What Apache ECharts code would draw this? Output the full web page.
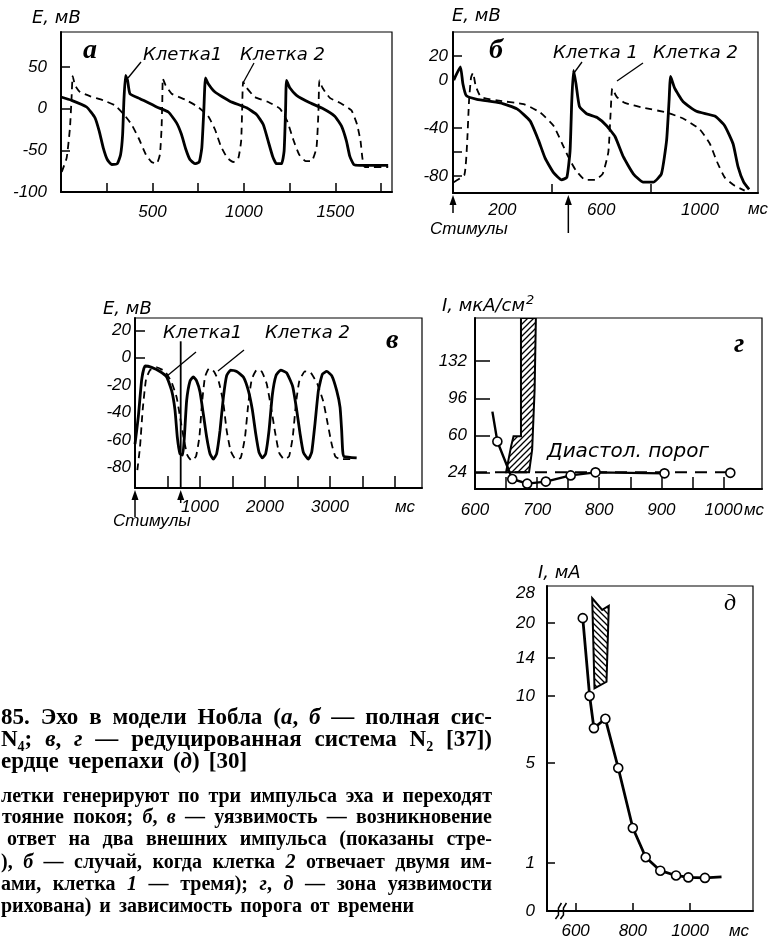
<!DOCTYPE html>
<html>
<head>
<meta charset="utf-8">
<script src="https://cdn.jsdelivr.net/npm/echarts@6/dist/echarts.min.js"></script>
<style>
  html, body { margin: 0; padding: 0; background: #fff; }
  #chart { width: 780px; height: 943px; }
</style>
</head>
<body>
<div id="chart"></div>
<script>
'use strict';

// ---- panel а: full system N4, time (ms) / potential (mV)
var aCell1 = [[0,14],[58,10],[140,2],[186,-11],[209,-27],[231,-47],[253,-61],[277,-67],[308,-66],[326,-55],
  [337,-31],[344,10],[353,40],[364,34],[377,18],[432,12],[523,2],[587,-4],[632,-17],[659,-31],[683,-49],
  [705,-61],[732,-66],[756,-64],[770,-47],[781,-2],[790,37],[805,30],[842,20],[923,9],[1015,1],[1069,-7],
  [1106,-19],[1133,-39],[1157,-57],[1178,-66],[1206,-66],[1220,-51],[1228,-2],[1233,34],[1251,25],[1288,16],
  [1361,7],[1434,0],[1497,-9],[1534,-21],[1561,-39],[1579,-57],[1601,-67],[1634,-68],[1789,-68]];
var aCell2 = [[4,-76],[31,-59],[49,-23],[58,14],[64,39],[77,28],[104,20],[158,15],[231,10],[295,4],[344,-7],
  [386,-19],[428,-37],[464,-55],[495,-64],[523,-66],[541,-55],[550,-23],[554,10],[557,36],[572,28],[605,18],
  [678,11],[750,2],[805,-9],[842,-25],[874,-45],[909,-59],[942,-64],[969,-60],[985,-39],[991,2],[996,32],
  [1015,25],[1060,14],[1133,8],[1197,0],[1237,-15],[1270,-37],[1302,-55],[1339,-63],[1370,-63],[1397,-47],
  [1408,-2],[1413,34],[1430,25],[1470,13],[1534,6],[1588,-2],[1619,-19],[1638,-39],[1648,-59],[1661,-70],[1789,-70]];
var aXLabels = [500, 1000, 1500];
var aXTicks = [250, 500, 750, 1000, 1250, 1500, 1750];
var aYLabels = [-100, -50, 0, 50];
var aYTicks = [-50, 0, 50];

// ---- panel б: vulnerability, full system
var bCell1 = [[3,0],[30,11],[40,-3],[54,-13],[97,-16],[191,-19],[259,-24],[312,-34],[346,-50],[373,-65],
  [407,-77],[440,-83],[461,-81],[474,-59],[481,-17],[488,8],[498,-3],[512,-22],[541,-28],[582,-31],[622,-38],
  [656,-47],[690,-64],[730,-78],[770,-85],[811,-85],[844,-78],[865,-50],[875,-17],[881,3],[898,-7],[932,-18],
  [986,-26],[1060,-30],[1100,-38],[1134,-53],[1154,-72],[1177,-85],[1199,-91]];
var bCell2 = [[3,-85],[46,-79],[57,-53],[65,-17],[73,2],[81,6],[92,-5],[113,-14],[178,-17],[286,-20],[353,-27],
  [407,-38],[440,-52],[467,-64],[497,-75],[535,-83],[575,-83],[606,-78],[629,-60],[638,-28],[645,-7],[663,-14],
  [696,-19],[770,-23],[865,-27],[932,-32],[999,-41],[1040,-53],[1069,-68],[1100,-81],[1141,-88],[1181,-92]];
var bStim = [0, 467];
var bXLabels = [200, 600, 1000];
var bXTicks = [400, 800];
var bYLabels = [-80, -40, 0, 20];
var bYTicks = [-80, -60, -40, 20];

// ---- panel в: reduced system N2
var vCell1 = [[0,-63],[51,-43],[103,-16],[154,-6],[256,-7],[385,-10],[487,-14],[564,-24],[615,-38],[651,-58],
  [692,-70],[733,-71],[759,-58],[795,-31],[846,-17],[897,-14],[949,-17],[1000,-25],[1051,-41],[1103,-58],
  [1154,-70],[1205,-74],[1256,-70],[1308,-53],[1359,-29],[1410,-13],[1472,-9],[1564,-10],[1667,-14],[1744,-24],
  [1805,-38],[1856,-55],[1908,-69],[1959,-73],[2010,-70],[2062,-53],[2113,-27],[2169,-13],[2241,-9],[2333,-11],
  [2426,-21],[2487,-38],[2538,-55],[2590,-69],[2667,-74],[2718,-69],[2769,-48],[2821,-24],[2882,-12],[2949,-10],
  [3026,-13],[3103,-24],[3154,-36],[3179,-53],[3195,-68],[3215,-72],[3410,-73]];
var vCell2 = [[36,-82],[77,-65],[118,-38],[169,-16],[231,-9],[333,-7],[462,-10],[564,-18],[641,-29],[703,-46],
  [754,-60],[805,-71],[872,-75],[938,-72],[990,-58],[1031,-33],[1077,-14],[1138,-8],[1215,-10],[1292,-18],
  [1359,-33],[1410,-53],[1472,-68],[1549,-74],[1626,-73],[1692,-58],[1744,-33],[1795,-16],[1872,-9],[1949,-10],
  [2026,-19],[2092,-36],[2154,-54],[2215,-69],[2292,-74],[2369,-72],[2426,-58],[2477,-33],[2528,-17],[2615,-10],
  [2703,-11],[2805,-19],[2897,-32],[2964,-48],[3026,-63],[3082,-72],[3154,-74],[3359,-74]];
var vStim = [0, 703];
var vStimTop = 12;
var vXLabels = [1000, 2000, 3000];
var vXTicks = [500, 1000, 1500, 2000, 2500, 3000, 3500, 4000];
var vYLabels = [-80, -60, -40, -20, 0, 20];
var vYTicks = [0, 20];

// ---- panel г: threshold (мкА/см2) vs time (ms)
var gStart = [628, 83];
var gPoints = [[636,54],[660,17.5],[684,13],[714,15],[754,21],[794,24],[905,23]];
var gFar = [[1011,23.5]];
var gThreshold = 24;
var gThresholdSpan = [600, 1011];
var gZone = [[674,174],[698,174],[696,105],[692,46],[687,24],[650,24],[658,49],[662,59],[674,59]];
var gXLabels = [600, 700, 800, 900, 1000];
var gXTicks = [650, 700, 750, 800, 850, 900, 950, 1000];
var gYLabels = [24, 60, 96, 132];

// ---- panel д: turtle heart, threshold (мА) vs time (ms)
var dPoints = [[625,21.3],[649,10],[664,7.6],[704,8.3],[749,4.8],[800,2.4],[845,1.23],[896,0.84],
  [951,0.74],[994,0.70],[1052,0.69]];
var dEnd = [1110, 0.71];
var dZone = [[658,26.6],[693,23.5],[716,24.6],[708,11.5],[666,10.8]];
var dXLabels = [600, 800, 1000];
var dYLabels = [0, 1, 5, 10, 14, 20, 28];
// the printed I axis is uneven: height of each labelled value above the origin
var dYScale = [0, 48, 148, 215, 253, 288, 318];

function dWarp(v) {
  for (var i = 1; i < dYLabels.length; i++) {
    if (v <= dYLabels[i]) {
      var f = (v - dYLabels[i - 1]) / (dYLabels[i] - dYLabels[i - 1]);
      return dYScale[i - 1] + f * (dYScale[i] - dYScale[i - 1]);
    }
  }
  var n = dYLabels.length - 1;
  return dYScale[n] + (v - dYLabels[n]) * (dYScale[n] - dYScale[n - 1]) / (dYLabels[n] - dYLabels[n - 1]);
}
function dw(p) { return [p[0], dWarp(p[1])]; }

// caption (left part of the page is cut off in the scan)
var capTitle = [
  '85. Эхо в модели Нобла (_а_, _б_ — полная сис-',
  'N~4~; _в_, _г_ — редуцированная система N~2~ [37])',
  'ердце черепахи (_д_) [30]'
];
var capBody = [
  'летки генерируют по три импульса эха и переходят',
  'тояние покоя; _б_, _в_ — уязвимость — возникновение',
  'ответ на два внешних импульса (показаны стре-',
  '), _б_ — случай, когда клетка _2_ отвечает двумя им-',
  'ами, клетка _1_ — тремя); _г_, _д_ — зона уязвимости',
  'рихована) и зависимость порога от времени'
];

var LBL = 'italic 18px "DejaVu Sans"';
var UNIT = 'italic 17px "Liberation Sans"';
var LETTER = 'italic bold 28px "Liberation Serif"';

function hatch(dir) {
  var c = document.createElement('canvas');
  c.width = 6; c.height = 6;
  var g = c.getContext('2d');
  g.strokeStyle = '#000';
  g.lineWidth = 1.3;
  g.beginPath();
  if (dir > 0) {
    g.moveTo(0, 6); g.lineTo(6, 0);
    g.moveTo(-1, 1); g.lineTo(1, -1);
    g.moveTo(5, 7); g.lineTo(7, 5);
  } else {
    g.moveTo(0, 0); g.lineTo(6, 6);
    g.moveTo(5, -1); g.lineTo(7, 1);
    g.moveTo(-1, 5); g.lineTo(1, 7);
  }
  g.stroke();
  return c;
}

function plain(v) { return '{i|' + v + '}'; }
var numRich = { i: { fontStyle: 'italic', fontFamily: 'Liberation Sans', fontSize: 17, color: '#000' } };

function xAx(grid, min, max, labels, ticks, margin, tickLen) {
  return {
    type: 'value', gridIndex: grid, min: min, max: max,
    axisLine: { show: true, onZero: false, lineStyle: { color: '#000', width: 2 } },
    axisTick: { show: true, inside: true, length: tickLen, customValues: ticks, lineStyle: { color: '#000', width: 1.5 } },
    axisLabel: { show: true, customValues: labels, margin: margin, color: '#000', formatter: plain,
      fontFamily: 'Liberation Sans', fontStyle: 'italic', fontSize: 17, rich: numRich },
    splitLine: { show: false }
  };
}
function yAx(grid, min, max, labels, ticks, margin, tickLen, fmt) {
  var ax = xAx(grid, min, max, labels, ticks, margin, tickLen);
  if (fmt) ax.axisLabel.formatter = fmt;
  return ax;
}

function curve(idx, data, dashed) {
  return {
    type: 'line', xAxisIndex: idx, yAxisIndex: idx, data: data,
    showSymbol: false, silent: true, smooth: 0.15,
    lineStyle: dashed ? { color: '#000', width: 1.8, type: [7, 5] } : { color: '#000', width: 2.8 },
    z: dashed ? 3 : 4
  };
}

function zone(idx, pts, dir) {
  var pattern = { image: hatch(dir), repeat: 'repeat' };
  return {
    type: 'custom', xAxisIndex: idx, yAxisIndex: idx, data: pts, silent: true, clip: true, z: 5,
    renderItem: function (params, api) {
      if (params.dataIndex !== 0) return null;
      var p = pts.map(function (q) { return api.coord(q); });
      return { type: 'polygon', shape: { points: p },
        style: { fill: pattern, stroke: '#000', lineWidth: 2 } };
    }
  };
}

var chart = echarts.init(document.getElementById('chart'), null, { renderer: 'canvas', width: 780, height: 943 });

var grids = [
  { left: 61, top: 32, width: 331, height: 160 },
  { left: 453, top: 32, width: 305, height: 161 },
  { left: 135, top: 318, width: 287, height: 170 },
  { left: 475, top: 318, width: 287, height: 171 },
  { left: 547, top: 586, width: 206, height: 325 }
].map(function (g) {
  return Object.assign({ show: true, borderColor: '#000', borderWidth: 1.2, backgroundColor: 'transparent',
    containLabel: false, outerBoundsMode: 'none' }, g);
});

var dTicks = dYScale.slice(1, 6);

var option = {
  animation: false,
  backgroundColor: '#fff',
  grid: grids,
  xAxis: [
    xAx(0, 0, 1810, aXLabels, aXTicks, 12, 9),
    xAx(1, 0, 1235, bXLabels, bXTicks, 9, 9),
    xAx(2, 0, 4415, vXLabels, vXTicks, 11, 12),
    xAx(3, 600, 1062, gXLabels, gXTicks, 13, 12),
    xAx(4, 500, 1220, dXLabels, dXLabels, 12, 8)
  ],
  yAxis: [
    yAx(0, -100, 92, aYLabels, aYTicks, 14, 9),
    yAx(1, -94, 40, bYLabels, bYTicks, 5, 9),
    yAx(2, -95, 29, vYLabels, vYTicks, 4, 10),
    yAx(3, 7.8, 174, gYLabels, gYLabels, 8, 15),
    yAx(4, 0, 325, dYScale, dTicks, 12, 8, function (v) {
      var i = dYScale.indexOf(v);
      return i >= 0 ? '{i|' + dYLabels[i] + '}' : '';
    })
  ],
  series: [
    curve(0, aCell1, false), curve(0, aCell2, true),
    curve(1, bCell1, false), curve(1, bCell2, true),
    curve(2, vCell1, false), curve(2, vCell2, true),
    zone(3, gZone, 1),
    {
      type: 'line', xAxisIndex: 3, yAxisIndex: 3, silent: true, showSymbol: false, z: 3,
      data: gThresholdSpan.map(function (x) { return [x, gThreshold]; }),
      lineStyle: { color: '#000', width: 2, type: [12, 8] }
    },
    {
      type: 'line', xAxisIndex: 3, yAxisIndex: 3, silent: true, showSymbol: false, z: 4,
      data: [gStart].concat(gPoints), lineStyle: { color: '#000', width: 2.4 }
    },
    {
      type: 'scatter', xAxisIndex: 3, yAxisIndex: 3, silent: true, z: 6,
      data: gPoints.concat(gFar), symbol: 'circle', symbolSize: 9,
      itemStyle: { color: '#fff', borderColor: '#000', borderWidth: 1.6, opacity: 1 }
    },
    zone(4, dZone.map(dw), -1),
    {
      type: 'line', xAxisIndex: 4, yAxisIndex: 4, silent: true, showSymbol: false, z: 4,
      data: dPoints.concat([dEnd]).map(dw), lineStyle: { color: '#000', width: 2.8 }
    },
    {
      type: 'scatter', xAxisIndex: 4, yAxisIndex: 4, silent: true, z: 6,
      data: dPoints.map(dw), symbol: 'circle', symbolSize: 9,
      itemStyle: { color: '#fff', borderColor: '#000', borderWidth: 1.6, opacity: 1 }
    }
  ]
};
chart.setOption(option);

// ---------- annotations ----------
var gfx = [];
function txt(x, cy, s, font) {
  gfx.push({ type: 'text', x: x, y: cy, silent: true, z: 10,
    style: { text: s, font: font, fill: '#000', textAlign: 'left', align: 'left',
      textVerticalAlign: 'middle', verticalAlign: 'middle' } });
}
function seg(x1, y1, x2, y2, w) {
  gfx.push({ type: 'line', silent: true, z: 10, shape: { x1: x1, y1: y1, x2: x2, y2: y2 },
    style: { stroke: '#000', lineWidth: w || 1.3 } });
}
function arrow(x, yTail, yHead) {
  seg(x, yTail, x, yHead + 6, 1.5);
  gfx.push({ type: 'polygon', silent: true, z: 10,
    shape: { points: [[x, yHead], [x - 3.5, yHead + 10], [x + 3.5, yHead + 10]] }, style: { fill: '#000' } });
}
function px(idx, p) { return chart.convertToPixel({ xAxisIndex: idx, yAxisIndex: idx }, p); }

// panel а
txt(32, 18, 'E, мВ', LBL);
txt(83, 51, 'а', LETTER);
txt(143, 55, 'Клетка1', LBL);
txt(240, 55, 'Клетка 2', LBL);
seg(128, 78, 141, 62);
seg(243, 83, 254, 63);

// panel б
txt(452, 16, 'E, мВ', LBL);
txt(489, 51, 'б', LETTER);
txt(553, 53, 'Клетка 1', LBL);
txt(653, 53, 'Клетка 2', LBL);
seg(574, 73, 582, 62);
seg(617, 81, 643, 63);
txt(748, 209, 'мс', UNIT);
txt(430, 229, 'Стимулы', UNIT);
var bBottom = px(1, [0, -94])[1];
bStim.forEach(function (t, i) {
  var x = px(1, [t, -94])[0];
  arrow(x, bBottom + (i === 0 ? 20 : 40), bBottom + 2);
});

// panel в
txt(103, 309, 'E, мВ', LBL);
txt(163, 333, 'Клетка1', LBL);
txt(265, 333, 'Клетка 2', LBL);
txt(386, 341, 'в', LETTER);
seg(167, 376, 196, 352);
seg(218, 371, 244, 350);
txt(395, 507, 'мс', UNIT);
txt(113, 521, 'Стимулы', UNIT);
var vBottom = px(2, [0, -95])[1];
vStim.forEach(function (t, i) {
  var x = px(2, [t, -95])[0];
  if (i > 0) seg(x, px(2, [t, vStimTop])[1], x, vBottom, 1.8);
  arrow(x, vBottom + (i === 0 ? 29 : 15), vBottom + 2);
});

// panel г
gfx.push({ type: 'text', x: 442, y: 306, silent: true, z: 10,
  style: { text: 'I, мкА/см{s|2}', font: LBL, fill: '#000', textVerticalAlign: 'middle', verticalAlign: 'middle',
    rich: { s: { font: 'italic 13px "DejaVu Sans"', verticalAlign: 'top', padding: [0, 0, 10, 1] } } } });
txt(734, 345, 'г', LETTER);
txt(547, 452, 'Диастол. порог', 'italic 20px "DejaVu Sans"');
txt(744, 510, 'мс', UNIT);

// panel д
txt(538, 573, 'I, мА', LBL);
txt(724, 604, 'д', 'italic 24px "Liberation Serif"');
txt(729, 931, 'мс', UNIT);
var dBreak = px(4, [540, 0]);
[0, 5].forEach(function (dx) {
  var x = dBreak[0] + dx, y = dBreak[1];
  gfx.push({ type: 'polyline', silent: true, z: 10,
    shape: { points: [[x - 3, y + 8], [x, y + 4], [x, y - 3], [x + 3, y - 8]] },
    style: { stroke: '#000', lineWidth: 1.5, fill: null } });
});

// caption, justified word by word
var mctx = document.createElement('canvas').getContext('2d');
function fontFor(kind, size) {
  var f = '"Liberation Serif"';
  if (kind === 'i') return 'italic bold ' + size + 'px ' + f;
  if (kind === 's') return 'bold ' + Math.round(size * 0.62) + 'px ' + f;
  return 'bold ' + size + 'px ' + f;
}
function parse(word) {
  return word.split(/(_[^_]+_|~[^~]+~)/).filter(Boolean).map(function (s) {
    if (s.charAt(0) === '_') return { t: s.slice(1, -1), k: 'i' };
    if (s.charAt(0) === '~') return { t: s.slice(1, -1), k: 's' };
    return { t: s, k: 'n' };
  });
}
function captionLine(str, x0, cy, size, right, justify) {
  var words = str.split(' ').map(function (w) {
    var segs = parse(w), tot = 0;
    segs.forEach(function (s) {
      mctx.font = fontFor(s.k, size);
      s.w = mctx.measureText(s.t).width;
      tot += s.w;
    });
    return { segs: segs, w: tot };
  });
  var total = words.reduce(function (a, w) { return a + w.w; }, 0);
  mctx.font = fontFor('n', size);
  var gap = justify ? (right - x0 - total) / (words.length - 1) : mctx.measureText(' ').width * 1.6;
  var x = x0;
  words.forEach(function (w) {
    w.segs.forEach(function (s) {
      txt(x, cy + (s.k === 's' ? size * 0.3 : 0), s.t, fontFor(s.k, size));
      x += s.w;
    });
    x += gap;
  });
}
var titleY = [718, 740, 762];
var bodyY = [797, 818, 840, 863, 885, 907];
var bodyX = [1, 2, 7, 1, 1, 1];
capTitle.forEach(function (s, i) { captionLine(s, 1, titleY[i], 23, 492, i < capTitle.length - 1); });
capBody.forEach(function (s, i) { captionLine(s, bodyX[i], bodyY[i], 20, 492, i < capBody.length - 1); });

chart.setOption({ graphic: { elements: gfx } });
</script>
</body>
</html>
